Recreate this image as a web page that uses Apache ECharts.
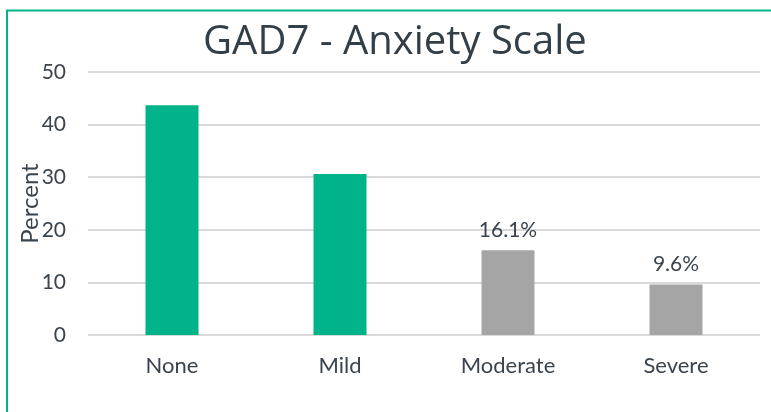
<!DOCTYPE html>
<html><head><meta charset="utf-8">
<script src="https://cdn.jsdelivr.net/npm/echarts@6/dist/echarts.min.js"></script>
<style>html,body{margin:0;padding:0;background:#fff}#c{width:771px;height:412px}</style>
</head><body><div id="c"></div>
<script>
const categories = ['None', 'Mild', 'Moderate', 'Severe'];
const percents = [43.7, 30.6, 16.1, 9.6];
const showLabel = [false, false, true, true];
const barColors = ['#00B388', '#00B388', '#A5A5A5', '#A5A5A5'];
const yTicks = [0, 10, 20, 30, 40, 50];

const chart = echarts.init(document.getElementById('c'), null, {renderer: 'canvas'});
const textColor = '#3A444E';
chart.setOption({
  animation: false,
  graphic: [{
    type: 'polyline',
    shape: {points: [[7, 412], [7, 10.5], [771, 10.5]]},
    style: {stroke: '#00B388', lineWidth: 2, fill: null}
  }],
  title: {
    text: 'GAD7 - Anxiety Scale',
    left: 203,
    top: 23,
    padding: 0,
    textStyle: {fontFamily: 'Open Sans', fontSize: 40, fontWeight: 500, color: '#333F48'}
  },
  grid: {left: 88, right: 11, top: 72, bottom: 77, containLabel: false},
  xAxis: {
    type: 'category',
    data: categories,
    axisLine: {show: false},
    axisTick: {show: false},
    axisLabel: {fontFamily: 'Lato', fontSize: 22, color: textColor, margin: 20}
  },
  yAxis: {
    type: 'value',
    min: yTicks[0],
    max: yTicks[yTicks.length - 1],
    interval: 10,
    name: 'Percent',
    nameLocation: 'middle',
    nameGap: 46,
    nameMoveOverlap: false,
    nameTextStyle: {fontFamily: 'Lato', fontSize: 24, color: textColor},
    axisLine: {show: false},
    axisTick: {show: false},
    axisLabel: {fontFamily: 'Lato', fontSize: 21, color: textColor, margin: 22},
    splitLine: {lineStyle: {color: '#D9D9D9', width: 2}}
  },
  series: [{
    type: 'bar',
    barWidth: 53,
    data: percents.map((v, i) => ({
      value: v,
      itemStyle: {color: barColors[i]},
      label: {
        show: showLabel[i],
        position: 'top',
        distance: 10,
        formatter: (p) => p.value.toFixed(1) + '%',
        fontFamily: 'Lato', fontSize: 21, color: textColor
      }
    }))
  }]
});
</script></body></html>
